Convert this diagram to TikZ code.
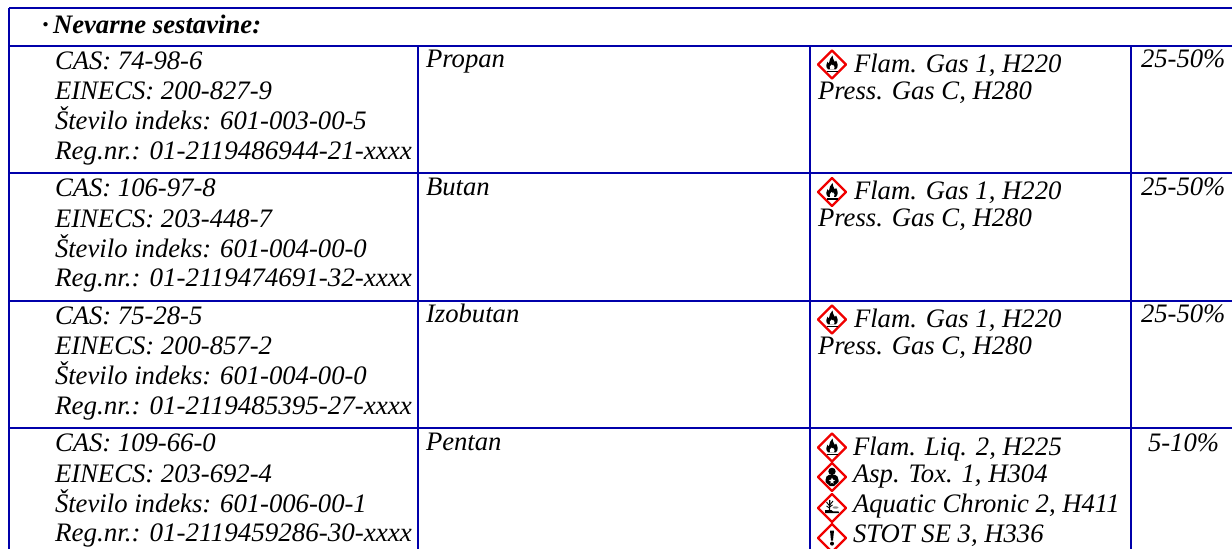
\documentclass[tikz,border=0pt]{standalone}
\usepackage{fontspec}
\usepackage{graphicx}
\setmainfont{Liberation Serif}
\definecolor{rule}{HTML}{0000AA}
\definecolor{ghsred}{HTML}{F00000}
\newcommand{\regline}[1]{\scalebox{1.014}[1]{#1}}
\tikzset{
  cell/.style={anchor=base west,inner sep=0pt,outer sep=0pt,font=\fontsize{26.67}{30}\selectfont\itshape,text=black},
  head/.style={cell,font=\fontsize{26.67}{30}\selectfont\bfseries\itshape},
  grid/.style={draw=rule,line width=2pt},
  ghsframe/.pic={\draw[ghsred,line width=2.4pt,fill=white,line join=round] (0,-14)--(14,0)--(0,14)--(-14,0)--cycle;},
  flame/.pic={
    \pic{ghsframe};
    \fill[black] (-4,4.8) .. controls (-6.5,2.5) and (-6,-1) .. (-4.5,-3) .. controls (-4.2,-1.5) and (-3.5,-1.2) .. (-3,-1.5) .. controls (-3,-4) and (-1.5,-7) .. (0.5,-9) .. controls (0.2,-6) and (2,-5) .. (2.5,-3) .. controls (3,-2.5) and (3.5,-3) .. (4,-4) .. controls (6,-1) and (6.5,2.5) .. (4,4.8) -- cycle;
    \fill[white] (-1.8,4.8) .. controls (-3.2,3) and (-2,1.5) .. (-0.5,0) .. controls (0,1.5) and (1,1) .. (1.2,0.3) .. controls (2.8,2) and (3,3.5) .. (1.8,4.8) -- cycle;
    \fill[black] (-5.5,6.2) rectangle (5.5,7.8);
  },
  health/.pic={
    \pic{ghsframe};
    \fill[black] (0,-5.6) circle (3.7);
    \fill[black] (-3,-2.2) -- (3,-2.2) .. controls (5,-1.5) and (6.5,0) .. (6.5,3) -- (6.5,5) -- (2,9) -- (-2,9) -- (-6.5,5) -- (-6.5,3) .. controls (-6.5,0) and (-5,-1.5) .. (-3,-2.2) -- cycle;
    \fill[white] (0,0.5) -- (0.9,2.6) -- (3.2,3.2) -- (1.2,4.4) -- (1.5,6.8) -- (0,5.3) -- (-1.5,6.8) -- (-1.2,4.4) -- (-3.2,3.2) -- (-0.9,2.6) -- cycle;
  },
  aquatic/.pic={
    \pic{ghsframe};
    \draw[black,line width=1.2pt] (-2.5,3) -- (-2.2,-8);
    \draw[black,line width=.9pt] (-2.4,-2) -- (-5.5,-6) (-2.3,-3) -- (1,-7) (-2.4,0) -- (-5.5,-2) (-2.4,-1) -- (0.5,-3);
    \fill[black] (-7,2.2) -- (-0.5,2.2) -- (1,3.4) -- (6.5,3.4) -- (7,5) -- (-7,5) -- cycle;
    \fill[black!45] (3.5,-0.5) ellipse (3 and 1.2);
  },
  exclam/.pic={
    \pic{ghsframe};
    \fill[black] (-2,-7.5) -- (2,-7.5) -- (1,2.5) -- (-1,2.5) -- cycle;
    \fill[black] (0,5.6) circle (2);
  }
}
\begin{document}
\begin{tikzpicture}[x=1pt,y=-1pt]
\useasboundingbox (0,0) rectangle (1232,549);
\clip (0,0) rectangle (1232,549);
\coordinate (tl) at (9,8);   \coordinate (tr) at (1232,8);
\coordinate (h1l) at (9,45.5); \coordinate (h1r) at (1232,45.5);
\coordinate (h2l) at (9,173); \coordinate (h2r) at (1232,173);
\coordinate (h3l) at (9,300.5); \coordinate (h3r) at (1232,300.5);
\coordinate (h4l) at (9,428); \coordinate (h4r) at (1232,428);
\coordinate (bl) at (9,549);
\coordinate (v2t) at (418,45.5); \coordinate (v2b) at (418,549);
\coordinate (v3t) at (810,45.5); \coordinate (v3b) at (810,549);
\coordinate (v4t) at (1131,45.5); \coordinate (v4b) at (1131,549);
\draw[grid] (tl) -- (tr);
\draw[grid] (h1l) -- (h1r);
\draw[grid] (h2l) -- (h2r);
\draw[grid] (h3l) -- (h3r);
\draw[grid] (h4l) -- (h4r);
\draw[grid] (tl) -- (bl);
\draw[grid] (v2t) -- (v2b);
\draw[grid] (v3t) -- (v3b);
\draw[grid] (v4t) -- (v4b);
% header
\node[head] (hdot) at (42,33) {\textperiodcentered};
\node[head] (hd) at (53,33) {Nevarne sestavine:};
% row 1
\node[cell] (a1) at (55,69) {CAS: 74-98-6};
\node[cell] (a2) at (55,99.5) {EINECS: 200-827-9};
\node[cell] (a3) at (55,129.5) {Število indeks: 601-003-00-5};
\node[cell] (a4) at (55,159) {\regline{Reg.nr.: 01-2119486944-21-xxxx}};
\node[cell] (an) at (426,67.5) {Propan};
\pic at (832,64.5) {flame};
\node[cell] (ah1) at (854,72) {Flam. Gas 1, H220};
\node[cell] (ah2) at (818,99) {Press. Gas C, H280};
\node[cell] (ap) at (1141,67.5) {25-50\%};
% row 2
\node[cell] (b1) at (55,196.5) {CAS: 106-97-8};
\node[cell] (b2) at (55,227) {EINECS: 203-448-7};
\node[cell] (b3) at (55,257) {Število indeks: 601-004-00-0};
\node[cell] (b4) at (55,286.5) {\regline{Reg.nr.: 01-2119474691-32-xxxx}};
\node[cell] (bn) at (426,195) {Butan};
\pic at (832,192) {flame};
\node[cell] (bh1) at (854,199.5) {Flam. Gas 1, H220};
\node[cell] (bh2) at (818,226.5) {Press. Gas C, H280};
\node[cell] (bp) at (1141,195) {25-50\%};
% row 3
\node[cell] (c1) at (55,324) {CAS: 75-28-5};
\node[cell] (c2) at (55,354.5) {EINECS: 200-857-2};
\node[cell] (c3) at (55,384.5) {Število indeks: 601-004-00-0};
\node[cell] (c4) at (55,414) {\regline{Reg.nr.: 01-2119485395-27-xxxx}};
\node[cell] (cn) at (426,322.5) {Izobutan};
\pic at (832,319.5) {flame};
\node[cell] (ch1) at (854,327) {Flam. Gas 1, H220};
\node[cell] (ch2) at (818,354) {Press. Gas C, H280};
\node[cell] (cp) at (1141,322.5) {25-50\%};
% row 4
\node[cell] (d1) at (55,451.5) {CAS: 109-66-0};
\node[cell] (d2) at (55,482) {EINECS: 203-692-4};
\node[cell] (d3) at (55,512) {Število indeks: 601-006-00-1};
\node[cell] (d4) at (55,541.5) {\regline{Reg.nr.: 01-2119459286-30-xxxx}};
\node[cell] (dn) at (426,450) {Pentan};
\pic at (832,447.5) {flame};
\pic at (832,477) {health};
\pic at (832,508) {aquatic};
\pic at (832,538) {exclam};
\node[cell] (dh1) at (853,455) {Flam. Liq. 2, H225};
\node[cell] (dh2) at (853,482) {Asp. Tox. 1, H304};
\node[cell] (dh3) at (853,512) {Aquatic Chronic 2, H411};
\node[cell] (dh4) at (853,542) {STOT SE 3, H336};
\node[cell] (dp) at (1148,451) {5-10\%};
\end{tikzpicture}
\end{document}
